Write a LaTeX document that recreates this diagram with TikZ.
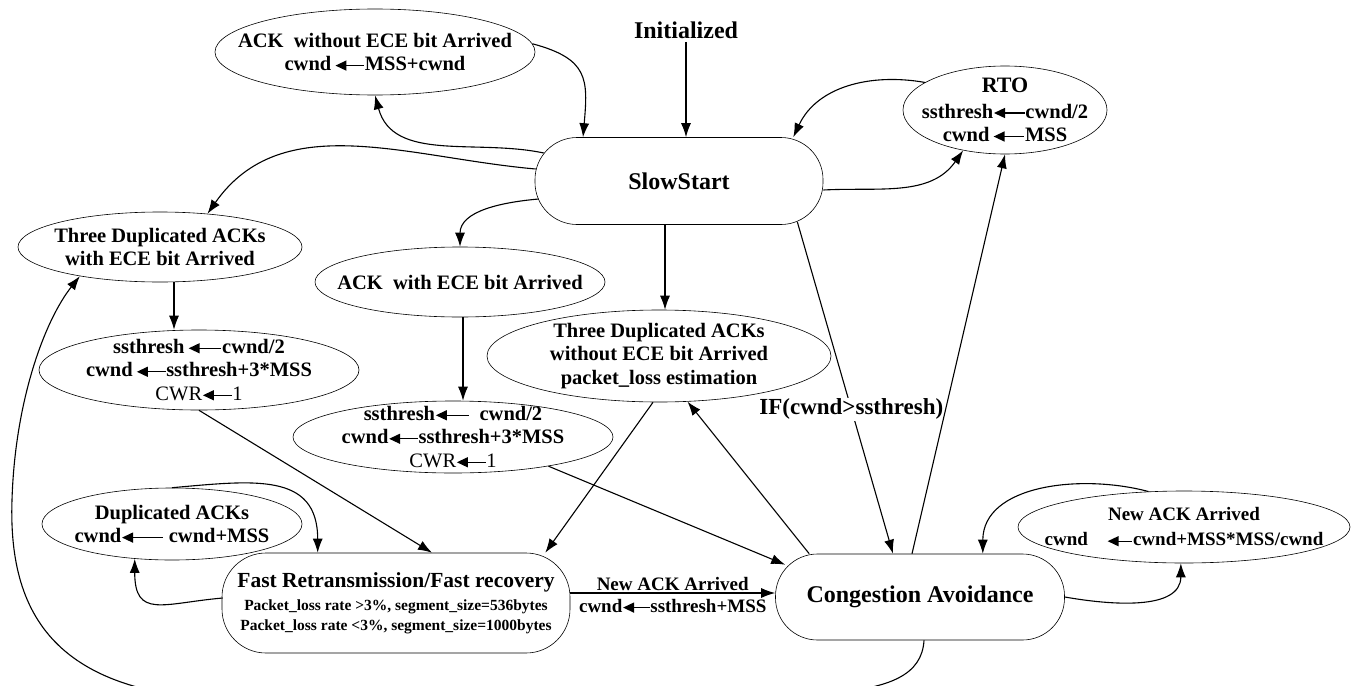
\documentclass[tikz,border=0pt]{standalone}
\usepackage{fontspec}
\setmainfont{Liberation Serif}
\usetikzlibrary{arrows.meta,calc,shapes.geometric}
\newcommand\la[1][1.4em]{\tikz[baseline=-0.55ex]\draw[line width=1.4pt,{Triangle[length=11pt,width=10pt]}-](0pt,0pt)--(#1,0pt);}
\tikzset{
  ell/.style={draw, ellipse, line width=0.6pt, inner sep=0pt},
  stbox/.style={draw, rectangle, line width=0.6pt, inner sep=0pt},
  arr/.style={-{Latex[length=14pt,width=10pt]}, line width=1.1pt},
  txt/.style={font=\fontsize{20.5}{23.5}\selectfont\bfseries, align=center, inner sep=0pt},
  big/.style={font=\fontsize{24}{28}\selectfont\bfseries},
}
\begin{document}
\begin{tikzpicture}[x=1pt,y=1pt]
\useasboundingbox (0,0) rectangle (1356,-685);
\fill[white] (0,0) rectangle (1356,-685);
\clip (0,0) rectangle (1356,-685);

% states
\node[big] (init) at (686,-30) {Initialized};
\node[stbox, rounded corners=42pt, minimum width=288pt, minimum height=87pt, big] (ss) at (679,-181) {SlowStart};
\node[stbox, rounded corners=44pt, minimum width=348pt, minimum height=100pt, align=center,
      font=\fontsize{15.5}{20}\selectfont\bfseries] (fr) at (396,-603)
  {\fontsize{21.5}{24}\selectfont Fast Retransmission/Fast recovery\\[3pt]
   Packet\_loss rate >3\%, segment\_size=536bytes\\
   Packet\_loss rate <3\%, segment\_size=1000bytes};
\node[stbox, rounded corners=42pt, minimum width=289pt, minimum height=86pt, big] (ca) at (920,-597) {Congestion Avoidance};

% events / actions
\node[ell, minimum width=320pt, minimum height=86pt,
  label={[txt]center:ACK\ \ without ECE bit Arrived\\cwnd\,\la MSS+cwnd}] (ackno) at (375,-52) {};
\node[ell, minimum width=204pt, minimum height=88pt,
  label={[txt]center:{\fontsize{22}{24}\selectfont RTO}\\[2pt]ssthresh\la[1.5em]cwnd/2\\cwnd\,\la[1.5em]MSS}] (rto) at (1005,-110) {};
\node[ell, minimum width=284pt, minimum height=70pt,
  label={[txt]center:Three Duplicated ACKs\\with ECE bit Arrived}] (tdw) at (160,-247) {};
\node[ell, minimum width=320pt, minimum height=80pt,
  label={[txt]center:ssthresh\,\la[1.6em]cwnd/2\\cwnd\,\la ssthresh+3*MSS\\\mdseries CWR\la[1.4em]1}] (ssl) at (199,-370) {};
\node[ell, minimum width=290pt, minimum height=70pt,
  label={[txt]center:ACK\ \ with ECE bit Arrived}] (ackw) at (460,-282) {};
\node[ell, minimum width=320pt, minimum height=72pt,
  label={[txt]center:ssthresh\la[1.6em]\ \ cwnd/2\\cwnd\la ssthresh+3*MSS\\\mdseries CWR\la[1.4em]1}] (ssm) at (453,-437) {};
\node[ell, minimum width=344pt, minimum height=92pt,
  label={[txt]center:Three Duplicated ACKs\\without ECE bit Arrived\\packet\_loss estimation}] (tdn) at (659,-356) {};
\node[ell, minimum width=260pt, minimum height=72pt,
  label={[txt]center:Duplicated ACKs\\cwnd\la[2em]\ cwnd+MSS}] (dup) at (172,-524) {};
\node[ell, minimum width=332pt, minimum height=72pt,
  label={[txt, font=\fontsize{19}{25}\selectfont\bfseries]center:New ACK Arrived\\cwnd\quad\la[1.3em]cwnd+MSS*MSS/cwnd}] (newack) at (1184,-527) {};

% connectors
\draw[arr] (init.south) -- (init.south |- ss.north);
\draw[arr] ($(ss.west)+(9,28)$) to[out=168, in=-75] (ackno.south);
\draw[arr] (ackno.3) to[out=-15, in=85, looseness=1.4] ($(ss.north)+(-96,0)$);
\draw[arr] ($(ss.west)+(1,12)$) to[out=175, in=55] (tdw.35);
\draw[arr] ($(ss.west)+(4,-18)$) to[out=185, in=90] (ackw.north);
\draw[arr] ([xshift=14pt]tdw.south) -- ([xshift=14pt]tdw.south |- ssl.north);
\draw[arr] ([xshift=3pt]ackw.south) -- ([xshift=3pt]ackw.south |- ssm.north);
\draw[arr] ([xshift=-14pt]ss.south) -- ([xshift=-14pt]ss.south |- tdn.north);
\draw[arr] ($(ss.south east)+(-26,3)$) --
  node[pos=.565, fill=white, inner sep=1pt, font=\fontsize{23}{26}\selectfont\bfseries] (ifl) {IF(cwnd>ssthresh)}
  ($(ca.north)+(-27,0)$);
\draw[arr] ($(ca.north west)+(34,0)$) -- (tdn.-58);
\draw[arr] ([xshift=-6pt]tdn.south) -- ($(fr.north east)+(-25,0)$);
\draw[arr] (ssm.-17) -- ($(ca.north west)+(10,-11)$);
\draw[arr] (ssl.south) -- ($(fr.north)+(36,0)$);
\draw[arr] ([yshift=10pt]fr.east) -- ([yshift=10pt]fr.east -| ca.west)
  node[midway, above, inner sep=2pt, font=\fontsize{19}{22}\selectfont\bfseries] (nal) {New ACK Arrived}
  node[midway, below, inner sep=6pt, font=\fontsize{19}{22}\selectfont\bfseries] (cwl) {cwnd\la ssthresh+MSS};
\draw[arr] ($(ca.north)+(-8,0)$) -- (rto.south);
\draw[arr] (rto.161) to[out=170, in=65] ($(ss.north east)+(-30,0)$);
\draw[arr] ($(ss.east)+(0,-9)$) to[out=3, in=-125] (rto.224);
\draw[arr] (newack.135) to[out=165, in=90] ($(ca.north east)+(-82,0)$);
\draw[arr] (ca.east) to[out=-10, in=-90] (newack.-95);
\draw[arr] ($(fr.west)+(1,5)$) to[out=185, in=-90, looseness=1.6] (dup.223);
\draw[arr] (dup.north) to[out=5, in=90, looseness=1.3] ($(fr.north west)+(96,0)$);
\draw[arr] ($(ca.south)+(4,0)$) .. controls (922,-675) and (890,-688) .. (830,-693)
  -- (250,-700) .. controls (60,-700) and (8,-620) .. (12,-500)
  .. controls (15,-400) and (45,-320) .. (tdw.200);
\end{tikzpicture}
\end{document}
